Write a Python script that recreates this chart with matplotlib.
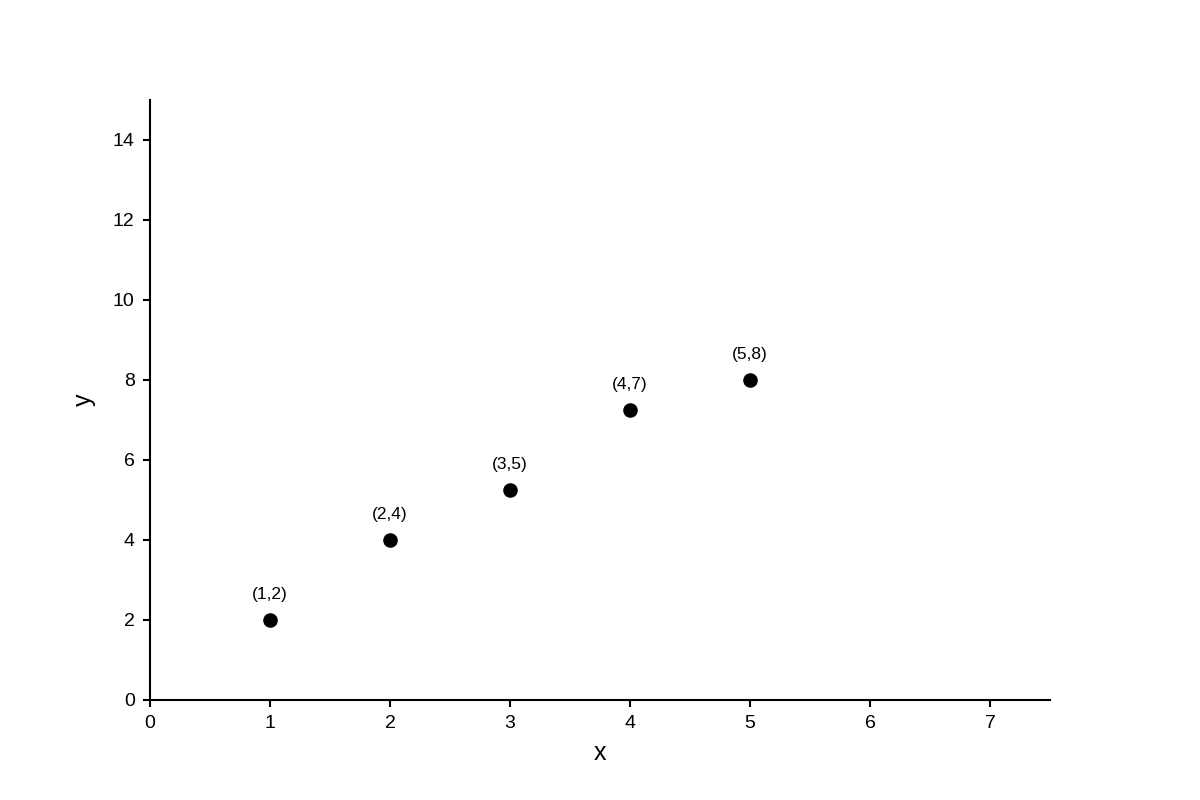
import matplotlib
matplotlib.use("Agg")
import matplotlib.pyplot as plt

plt.rcParams['font.family'] = ['Liberation Sans', 'DejaVu Sans']

# data
xs = [1, 2, 3, 4, 5]
ys = [2, 4, 5.25, 7.25, 8]
labels = ["(1,2)", "(2,4)", "(3,5)", "(4,7)", "(5,8)"]

fig = plt.figure(figsize=(12, 8), dpi=100)
ax = fig.add_axes([0.125, 0.125, 0.75, 0.75])

ax.scatter(xs, ys, s=90, color="black", zorder=3)
for x, y, lab in zip(xs, ys, labels):
    ax.annotate(lab, (x, y), xytext=(0, 18), textcoords="offset points",
                ha="center", va="center", fontsize=12.5)

ax.set_xlim(0, 7.5)
ax.set_ylim(0, 15)
ax.set_xticks(range(0, 8))
ax.set_yticks(range(0, 15, 2))

for s in ["top", "right"]:
    ax.spines[s].set_visible(False)
for s in ["left", "bottom"]:
    ax.spines[s].set_linewidth(1.5)

ax.tick_params(width=1.5, length=5, labelsize=14, pad=6)
ax.set_xlabel("x", fontsize=18, labelpad=6)
ax.set_ylabel("y", fontsize=18, labelpad=12)

fig.savefig("out.png", dpi=100)
